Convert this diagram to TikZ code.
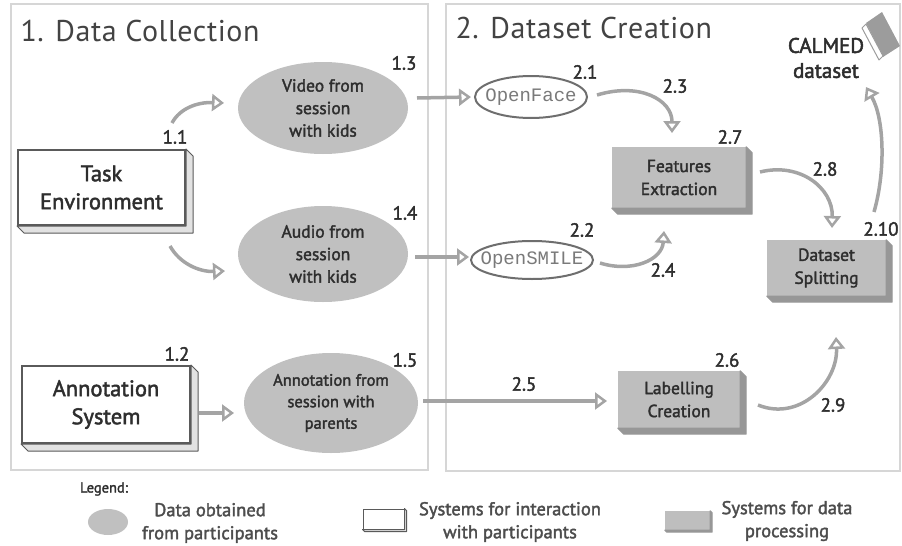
\documentclass[tikz,border=0pt]{standalone}
\usepackage{fontspec}
\setmainfont{PT Sans}[FakeBold=2.0]
\newfontfamily\titlefont{PT Sans}[LetterSpace=2]
\newfontfamily\calfont{PT Sans}[FakeBold=2.4]
\setmonofont{Liberation Mono}
\usetikzlibrary{arrows.meta,calc,shapes.geometric}
\definecolor{txt}{HTML}{2E2E2E}
\definecolor{ellc}{HTML}{C0C0C0}
\definecolor{procc}{HTML}{BEBEBE}
\definecolor{procsh}{HTML}{979797}
\definecolor{arrc}{HTML}{A4A4A4}
\definecolor{boxc}{HTML}{5A5A5A}
\definecolor{boxsh}{HTML}{E2E2E2}
\definecolor{toolc}{HTML}{6E6E6E}
\definecolor{tooltxt}{HTML}{7A7A7A}
\definecolor{panelc}{HTML}{D6D6D6}
\definecolor{bookc}{HTML}{9C9C9C}
\newcommand{\extrude}[4]{% node, depth, fill, draw
  \filldraw[fill=#3,draw=#4,line width=1pt,line join=round] (#1.north east) -- ++(#2,#2) -- ($(#1.south east)+(#2,#2)$) -- ($(#1.south west)+(#2,#2)$) -- (#1.south west) -- (#1.south east) -- cycle;}
\begin{document}
\begin{tikzpicture}[x=1pt,y=-1pt,
  panel/.style={draw=panelc,line width=2.5pt},
  title/.style={anchor=base west,text=txt!90,font=\titlefont\fontsize{30}{32}\selectfont},
  dataell/.style={ellipse,fill=ellc,inner sep=0pt},
  dtext/.style={align=center,text=txt,inner sep=0pt,font=\fontsize{17.5}{22.5}\selectfont},
  toolell/.style={ellipse,draw=toolc,line width=2pt,fill=white,inner sep=0pt},
  ttext/.style={text=tooltxt,inner sep=0pt,font=\ttfamily\fontsize{19}{19}\selectfont},
  sysbox/.style={rectangle,draw=boxc,line width=2pt,fill=white,align=center,text=txt,font=\fontsize{22.5}{28}\selectfont},
  procbox/.style={rectangle,fill=procc,align=center,text=txt,font=\fontsize{17.5}{23}\selectfont},
  num/.style={text=txt,inner sep=0pt,font=\fontsize{19}{19}\selectfont},
  arr/.style={draw=arrc,line width=3.5pt,-{Triangle[open,length=12pt,width=17pt,line width=2.5pt]}},
  legtext/.style={align=center,text=txt!85,inner sep=0pt,font=\fontsize{18.5}{23}\selectfont}]
\useasboundingbox (0,0) rectangle (902,546);

% panels
\draw[panel] (11,4) rectangle (428,470);
\draw[panel] (446,4) rectangle (900,471);
\node[title] (t1) at (17,41) {1. Data Collection};
\node[title] (t2) at (452,38) {2. Dataset Creation};

% systems for interaction
\node[sysbox,minimum width=167,minimum height=75] (te) at (101.5,187.5) {Task\\Environment};
\extrude{te}{7}{boxsh}{boxc}
\node[sysbox,minimum width=168,minimum height=77] (as) at (106,404.5) {Annotation\\System};
\extrude{as}{7}{boxsh}{boxc}

% data ellipses
\node[dataell,minimum width=170,minimum height=92] (vid) at (323,108) {};
\node[dtext] (vidt) at (vid.center) {Video from\\session\\with kids};
\node[dataell,minimum width=170,minimum height=96] (aud) at (323,254) {};
\node[dtext] (audt) at (aud.center) {Audio from\\session\\with kids};
\node[dataell,minimum width=174,minimum height=100] (ann) at (331,403) {};
\node[dtext,font=\fontsize{16.5}{21.5}\selectfont] (annt) at (ann.center) {Annotation from\\session with\\parents};

% tools
\node[toolell,minimum width=112,minimum height=42] (of) at (531,97) {};
\node[ttext] (oft) at (of.center) {OpenFace};
\node[toolell,minimum width=122,minimum height=38] (os) at (532,260) {};
\node[ttext] (ost) at (os.center) {OpenSMILE};

% processing boxes
\node[procbox,minimum width=134,minimum height=61] (fe) at (679,177.5) {Features\\Extraction};
\extrude{fe}{6}{procsh}{procsh}
\node[procbox,minimum width=119,minimum height=56] (ds) at (826.5,268) {Dataset\\Splitting};
\extrude{ds}{6}{procsh}{procsh}
\node[procbox,minimum width=122,minimum height=57] (lc) at (679,399.5) {Labelling\\Creation};
\extrude{lc}{6}{procsh}{procsh}

% CALMED dataset
\node[align=center,text=txt,inner sep=0pt,font=\calfont\fontsize{21}{25}\selectfont] (cal) at (826,58) {CALMED\\dataset};
\fill[bookc] (866,23) -- (882,12) -- (900,46) -- (883,57) -- cycle;
\filldraw[fill=white,draw=bookc,line width=1pt,line join=round] (862,28) -- (866,24) -- (883,56) -- (879,60) -- cycle;

% arrow end coordinates
\coordinate (a11s) at (172,123);
\coordinate (a11e) at (224,103);
\coordinate (a1as) at (170,246);
\coordinate (a1ae) at (225,271);
\coordinate (a12s) at (199,413);
\coordinate (a12e) at (234,413);
\coordinate (a13s) at (417,98);
\coordinate (a13e) at (471,97);
\coordinate (a14s) at (415,257);
\coordinate (a14e) at (469,257);
\coordinate (a25s) at (423,401);
\coordinate (a25e) at (607,401);
\coordinate (a23s) at (597,95);
\coordinate (a23e) at (672,133);
\coordinate (a24s) at (600,263);
\coordinate (a24e) at (664,231);
\coordinate (a28s) at (760,172);
\coordinate (a28e) at (832,228);
\coordinate (a29s) at (758,405);
\coordinate (a29e) at (836,337);
\coordinate (a210s) at (874,212);
\coordinate (a210e) at (866,87);

% arrows
\draw[arr] (a11s) .. controls (180,108) and (198,102) .. (a11e);
\draw[arr] (a1as) .. controls (180,264) and (200,272) .. (a1ae);
\draw[arr] (a12s) -- (a12e);
\draw[arr] (a13s) -- (a13e);
\draw[arr] (a14s) -- (a14e);
\draw[arr] (a25s) -- (a25e);
\draw[arr] (a23s) .. controls (640,82) and (672,100) .. (a23e);
\draw[arr] (a24s) .. controls (632,273) and (662,260) .. (a24e);
\draw[arr] (a28s) .. controls (800,162) and (833,188) .. (a28e);
\draw[arr] (a29s) .. controls (800,422) and (838,382) .. (a29e);
\draw[arr] (a210s) .. controls (886,170) and (884,118) .. (a210e);

% numbers
\node[num] (n11) at (175,137) {1.1};
\node[num] (n12) at (177,354) {1.2};
\node[num] (n13) at (404,63) {1.3};
\node[num] (n14) at (405,213) {1.4};
\node[num] (n15) at (405,360) {1.5};
\node[num] (n21) at (585,72) {2.1};
\node[num] (n22) at (582,230) {2.2};
\node[num] (n23) at (675,86) {2.3};
\node[num] (n24) at (663,270) {2.4};
\node[num] (n25) at (524,384) {2.5};
\node[num] (n26) at (727,360) {2.6};
\node[num] (n27) at (730,137) {2.7};
\node[num] (n28) at (825,169) {2.8};
\node[num] (n29) at (833,405) {2.9};
\node[num] (n210) at (881,229) {2.10};

% legend
\node[text=txt,inner sep=0pt,font=\fontsize{14.5}{14.5}\selectfont] (leg) at (104,489) {Legend:};
\node[ellipse,fill=ellc,minimum width=40,minimum height=26,inner sep=0pt] (l1) at (108,522) {};
\node[legtext] (l1t) at (210,523) {Data obtained\\from participants};
\node[rectangle,draw=boxc,line width=1pt,fill=white,minimum width=41,minimum height=20,inner sep=0pt] (l2) at (383.5,519) {};
\extrude{l2}{2}{boxsh}{boxc}
\node[legtext] (l2t) at (510,522) {Systems for interaction\\with participants};
\node[rectangle,fill=procc,minimum width=45,minimum height=19,inner sep=0pt] (l3) at (687.5,520.5) {};
\extrude{l3}{2}{procsh}{procsh}
\node[legtext] (l3t) at (787,521) {Systems for data\\processing};
\end{tikzpicture}
\end{document}
